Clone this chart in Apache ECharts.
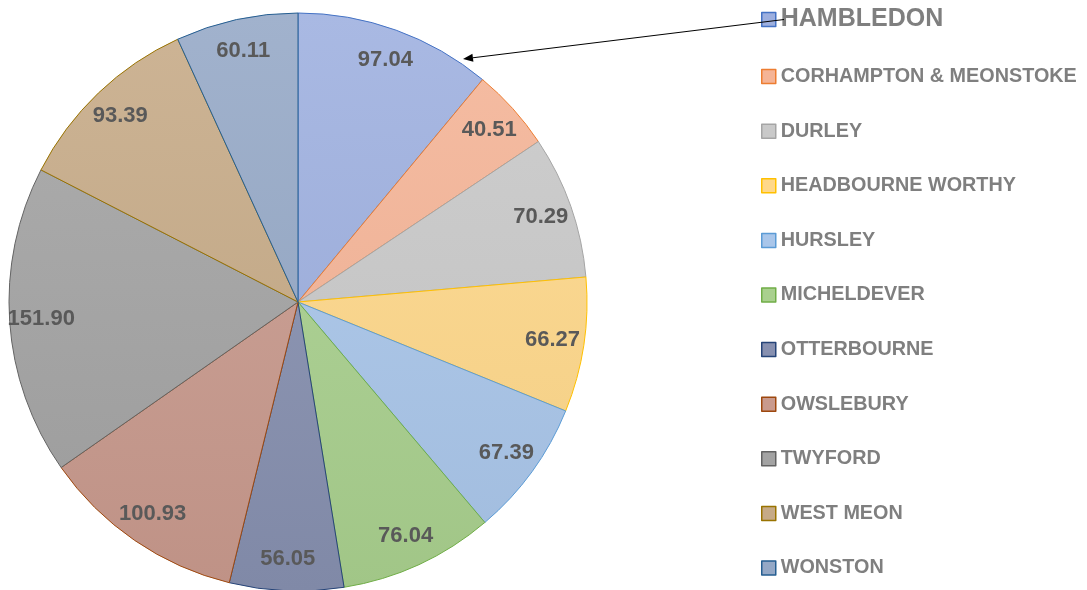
<!DOCTYPE html>
<html>
<head>
<meta charset="utf-8">
<script src="https://cdn.jsdelivr.net/npm/echarts@6/dist/echarts.min.js"></script>
<style>
  html, body { margin: 0; padding: 0; background: #fff; }
  #chart { width: 1087px; height: 590px; }
</style>
</head>
<body>
<div id="chart"></div>
<script>
// data
var categories = ["HAMBLEDON", "CORHAMPTON & MEONSTOKE", "DURLEY", "HEADBOURNE WORTHY", "HURSLEY",
  "MICHELDEVER", "OTTERBOURNE", "OWSLEBURY", "TWYFORD", "WEST MEON", "WONSTON"];
var values = [97.04, 40.51, 70.29, 66.27, 67.39, 76.04, 56.05, 100.93, 151.90, 93.39, 60.11];

// colours: slice fill and slice border
var fillColors = ["#9dafdf", "#f5b496", "#c9c9c9", "#ffd88a", "#a9c6ea", "#a9d08e", "#8790b0",
  "#c99a8d", "#a3a3a3", "#c6aa86", "#94a8c6"];
var lineColors = ["#4472c4", "#ed7d31", "#a5a5a5", "#ffc000", "#5b9bd5", "#70ad47", "#264478",
  "#9e480e", "#636363", "#997300", "#255e91"];

var cx = 298, cy = 302, R = 289;

function mix(hex, target, t) {
  var n = parseInt(hex.slice(1), 16);
  var r = (n >> 16) & 255, g = (n >> 8) & 255, b = n & 255;
  r = Math.round(r + (target - r) * t);
  g = Math.round(g + (target - g) * t);
  b = Math.round(b + (target - b) * t);
  return "rgb(" + r + "," + g + "," + b + ")";
}

function grad(hex) {
  // pie wide gradient, lighter at top, a bit darker at the bottom
  return new echarts.graphic.LinearGradient(0, cy - R, 0, cy + R, [
    { offset: 0, color: mix(hex, 255, 0.12) },
    { offset: 1, color: mix(hex, 0, 0.05) }
  ], true);
}

var sliceData = categories.map(function (c, i) {
  return {
    name: c, value: values[i],
    itemStyle: { color: grad(fillColors[i]), borderColor: lineColors[i], borderWidth: 1 }
  };
});
var labelData = categories.map(function (c, i) {
  return { name: c, value: values[i] };
});

var legendData = categories.map(function (c, i) {
  var item = {
    name: c,
    icon: "rect",
    itemStyle: { color: fillColors[i], borderColor: lineColors[i], borderWidth: 1.5 }
  };
  if (i === 0) item.textStyle = { fontSize: 25, lineHeight: 17 };
  return item;
});

// arrow from the legend entry to the HAMBLEDON slice
var ax1 = 784, ay1 = 19.5, ax2 = 463, ay2 = 59;
var adx = ax2 - ax1, ady = ay2 - ay1, alen = Math.sqrt(adx * adx + ady * ady);
var ux = adx / alen, uy = ady / alen;
var bx = ax2 - 10 * ux, by = ay2 - 10 * uy;

var myChart = echarts.init(document.getElementById('chart'));
var option = {
  animation: false,
  legend: {
    orient: 'vertical',
    left: 761,
    top: 7,
    padding: 0,
    itemWidth: 14,
    itemHeight: 14,
    itemGap: 34.6,
    textStyle: {
      color: '#7f7f7f',
      fontFamily: 'Liberation Sans, Arial',
      fontWeight: 'bold',
      fontSize: 19.8,
      lineHeight: 20
    },
    data: legendData
  },
  series: [{
    type: 'pie',
    center: [cx, cy],
    radius: [0, R],
    startAngle: 90,
    clockwise: true,
    avoidLabelOverlap: false,
    label: { show: false },
    labelLine: { show: false },
    emphasis: { disabled: true },
    data: sliceData
  }, {
    // transparent ring used to place the value labels near the rim
    type: 'pie',
    center: [cx, cy],
    radius: [R * 0.78, R * 0.98],
    startAngle: 90,
    clockwise: true,
    silent: true,
    avoidLabelOverlap: false,
    itemStyle: { color: 'rgba(0,0,0,0)', borderWidth: 0 },
    emphasis: { disabled: true },
    labelLine: { show: false },
    label: {
      show: true,
      position: 'inside',
      color: '#595959',
      fontFamily: 'Liberation Sans, Arial',
      fontWeight: 'bold',
      fontSize: 22,
      formatter: function (p) { return p.value.toFixed(2); }
    },
    data: labelData
  }],
  graphic: [{
    type: 'line',
    z: 100,
    shape: { x1: ax1, y1: ay1, x2: bx, y2: by },
    style: { stroke: '#000', lineWidth: 1 }
  }, {
    type: 'polygon',
    z: 100,
    shape: { points: [[ax2, ay2], [bx - 4 * uy, by + 4 * ux], [bx + 4 * uy, by - 4 * ux]] },
    style: { fill: '#000' }
  }]
};
myChart.setOption(option);
window.onresize = myChart.resize;
</script>
</body>
</html>
